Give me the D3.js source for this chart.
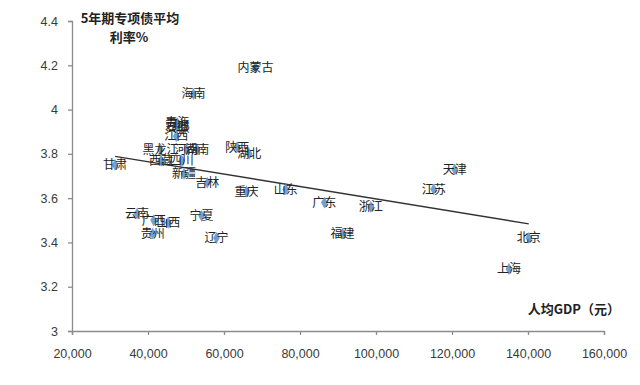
<!DOCTYPE html>
<html>
<head>
<meta charset="utf-8">
<script src="https://cdn.jsdelivr.net/npm/d3@7"></script>
<style>
    body { margin: 0; background: #fff; }
    text { font-family: "Liberation Sans", Arial, sans-serif; }
    .lbl { font-family: "Noto Sans CJK SC", sans-serif; }
</style>
</head>
<body>
<script>
// provinces, per-capita GDP (yuan), 5-year special bond average rate (%)
const provinces = ["甘肃", "云南", "贵州", "广西", "山西", "宁夏", "辽宁", "重庆", "山东", "广东",
    "浙江", "福建", "江苏", "天津", "北京", "上海", "内蒙古", "海南", "陕西", "湖北",
    "吉林", "新疆", "湖南", "河南", "黑龙江", "西藏", "四川", "青海", "安徽", "江西", "河北"];
const gdp = [31336, 37136, 41244, 41489, 45328, 54094, 58008, 65933, 76267, 86412,
    98643, 91197, 115168, 120711, 140211, 134982, 68302, 51955, 63477, 66616,
    55611, 49475, 52949, 50152, 43274, 43398, 48883, 47689, 47712, 47434, 47772];
const rate = [3.75, 3.53, 3.44, 3.50, 3.49, 3.52, 3.42, 3.63, 3.64, 3.58,
    3.56, 3.44, 3.64, 3.73, 3.42, 3.28, 4.19, 4.07, 3.83, 3.80,
    3.67, 3.71, 3.82, 3.82, 3.82, 3.77, 3.77, 3.94, 3.92, 3.88, 3.93];

const xTicks = [20000, 40000, 60000, 80000, 100000, 120000, 140000, 160000];
const yTicks = [3, 3.2, 3.4, 3.6, 3.8, 4, 4.2, 4.4];

const width = 640;
const height = 385;
const margin = { top: 21, right: 36, bottom: 54, left: 72 };

const svg = d3.select("body").append("svg")
    .attr("width", width)
    .attr("height", height);

const x = d3.scaleLinear().domain([20000, 160000]).range([margin.left, width - margin.right]);
const y = d3.scaleLinear().domain([3, 4.4]).range([height - margin.bottom, margin.top]);

// axes
const xAxis = svg.append("g")
    .attr("transform", `translate(0,${height - margin.bottom})`)
    .call(d3.axisBottom(x).tickValues(xTicks).tickFormat(d3.format(",")).tickSize(4).tickPadding(14));
const yAxis = svg.append("g")
    .attr("transform", `translate(${margin.left},0)`)
    .call(d3.axisLeft(y).tickValues(yTicks).tickFormat(d => d3.format("")(+d.toFixed(1))).tickSize(4).tickPadding(10));

[xAxis, yAxis].forEach(a => {
    a.select(".domain").attr("stroke", "#8c8c8c").attr("stroke-width", 1.3);
    a.selectAll(".tick line").attr("stroke", "#8c8c8c").attr("stroke-width", 1.3);
    a.selectAll(".tick text").attr("fill", "#3a3a3a").style("font-size", "12.5px");
});

// linear trendline (least squares)
const n = gdp.length;
const mx = d3.mean(gdp), my = d3.mean(rate);
let sxy = 0, sxx = 0;
for (let i = 0; i < n; i++) {
    sxy += (gdp[i] - mx) * (rate[i] - my);
    sxx += (gdp[i] - mx) * (gdp[i] - mx);
}
const slope = sxy / sxx;
const icpt = my - slope * mx;
const [gMin, gMax] = d3.extent(gdp);
svg.append("line")
    .attr("x1", x(gMin)).attr("y1", y(icpt + slope * gMin))
    .attr("x2", x(gMax)).attr("y2", y(icpt + slope * gMax))
    .attr("stroke", "#333")
    .attr("stroke-width", 1.4);

const pts = provinces.map((p, i) => ({ name: p, g: gdp[i], r: rate[i] }));

// markers
svg.selectAll(".pt")
    .data(pts)
    .enter()
    .append("path")
    .attr("class", "pt")
    .attr("d", d3.symbol().type(d3.symbolDiamond).size(40))
    .attr("transform", d => `translate(${x(d.g)},${y(d.r)})`)
    .attr("fill", "#5b8fc9")
    .attr("opacity", 0.85);

// data labels, centred on the point
svg.selectAll(".lbl")
    .data(pts)
    .enter()
    .append("text")
    .attr("class", "lbl")
    .attr("x", d => x(d.g))
    .attr("y", d => y(d.r))
    .attr("dy", "0.36em")
    .attr("text-anchor", "middle")
    .attr("font-size", "12px")
    .attr("fill", "#222")
    .text(d => d.name);

// axis titles
const yTitle = svg.append("text")
    .attr("class", "lbl")
    .attr("text-anchor", "middle")
    .attr("font-size", "13px")
    .attr("font-weight", "bold")
    .attr("fill", "#222");
yTitle.append("tspan").attr("x", 130).attr("y", 23).text("5年期专项债平均");
yTitle.append("tspan").attr("x", 129).attr("y", 42).text("利率%");

svg.append("text")
    .attr("class", "lbl")
    .attr("x", 620)
    .attr("y", 314)
    .attr("text-anchor", "end")
    .attr("font-size", "13px")
    .attr("font-weight", "bold")
    .attr("fill", "#222")
    .text("人均GDP（元）");
</script>
</body>
</html>
